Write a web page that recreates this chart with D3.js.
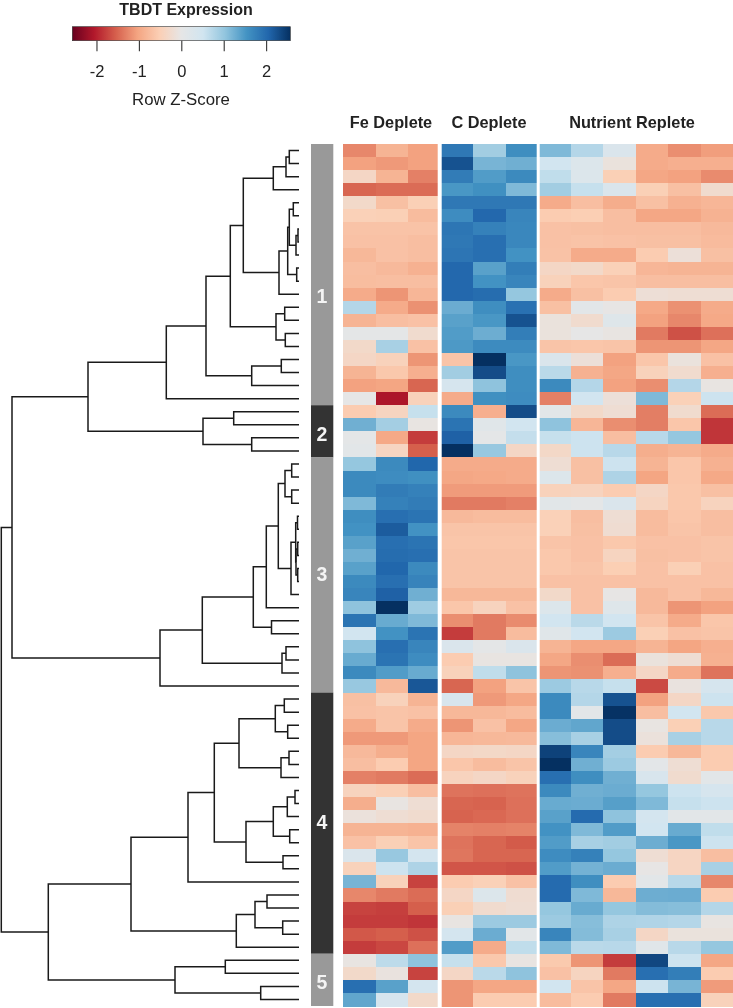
<!DOCTYPE html>
<html>
<head>
<meta charset="utf-8">
<script src="https://cdn.jsdelivr.net/npm/d3@7"></script>
<style>
body { margin: 0; background: #fff; }
svg { display: block; filter: blur(0.35px); }
text { font-family: "Liberation Sans", Arial, sans-serif; fill: #222; }
</style>
</head>
<body>
<script>
var w = 733;
var h = 1008;

// row z-scores, top row first
var feDeplete = [
[-1.25,-0.85,-1.05],[-1.05,-1.12,-1.05],[-0.35,-0.85,-1.3],[-1.5,-1.45,-1.45],[-0.3,-0.7,-0.5],
[-0.48,-0.5,-0.75],[-0.66,-0.66,-0.66],[-0.68,-0.68,-0.72],[-0.8,-0.68,-0.72],[-0.72,-0.78,-0.88],
[-0.74,-0.72,-0.72],[-0.95,-1.15,-0.82],[0.75,-0.95,-1.18],[-0.85,-0.72,-0.68],[0.05,0.05,-0.25],
[-0.3,0.85,-0.68],[-0.35,-0.45,-1.15],[-0.85,-0.6,-0.9],[-1.05,-1.02,-1.5],[0,-2.1,-0.45],
[-0.55,-0.4,0.6],[1.25,0.88,-0.05],[0.05,-0.98,-1.8],[0.1,-0.38,-1.55],
[1,1.65,2.05],[1.65,1.62,1.58],[1.65,1.8,1.75],[1.15,1.75,1.8],[1.6,1.95,1.9],
[1.55,2.15,1.55],[1.4,1.95,1.9],[1.25,1.98,1.95],[1.4,2.05,1.65],[1.65,1.95,1.72],
[1.7,2.1,1.25],[1.05,2.6,0.92],[1.9,1.3,1.15],[0.5,1.55,1.9],[1.05,1.95,1.7],
[1.3,1.9,1.62],[1.65,1.45,1.3],[0.98,-0.78,2.2],
[-0.7,-0.45,-0.85],[-0.68,-0.65,-0.68],[-0.95,-0.65,-0.95],[-1.12,-1.12,-1.02],[-0.78,-0.92,-1.02],
[-0.72,-0.55,-1.02],[-1.3,-1.35,-1.45],[-0.42,-0.5,-0.72],[-0.92,-0.05,-0.2],[-0.12,-0.2,-0.25],
[-0.85,-0.85,-0.88],[-0.68,-0.5,-0.65],[0.3,0.98,0.45],[-0.45,0.55,0.8],[1.2,-0.45,-1.75],
[-1.25,-1.35,-1.45],[-1.75,-1.78,-1.55],[-1.8,-1.8,-1.85],[-1.6,-1.55,-1.65],[-1.8,-1.72,-1.42],
[-0.05,0.68,1.05],[-0.3,-0.08,-1.75],[1.95,1.4,0.45],[1.35,0.4,-0.3]
];

var cDeplete = [
[1.85,0.9,1.6],[2.25,1.2,1.25],[1.8,1.45,1.65],[1.5,1.58,1.15],[1.85,1.85,1.85],
[1.62,2.03,1.7],[1.87,1.75,1.68],[1.85,1.95,1.68],[1.88,1.95,1.55],[2.03,1.4,1.78],
[2.03,1.55,1.7],[2.03,1.98,1],[1.28,1.6,1.93],[1.4,1.5,2.25],[1.45,1.27,1.78],
[1.48,1.63,1.63],[-0.65,2.6,1.5],[0.9,2.3,1.6],[0.4,1.05,1.6],[-0.95,1.58,1.62],
[1.65,-0.9,2.3],[1.9,0.15,0.5],[2.1,0.05,0.62],[2.6,0.98,-0.35],
[-0.95,-0.95,-0.95],[-1,-0.98,-0.95],[-1.1,-1.1,-1.1],[-1.35,-1.35,-1.3],[-0.78,-0.75,-0.75],
[-0.65,-0.65,-0.65],[-0.62,-0.62,-0.62],[-0.65,-0.65,-0.65],[-0.65,-0.65,-0.65],[-0.65,-0.65,-0.65],
[-0.8,-0.8,-0.8],[-0.62,-0.42,-0.68],[-1.2,-1.35,-1.22],[-1.8,-1.35,-0.75],[0.3,0.05,0.3],
[-0.55,-0.05,-0.05],[-0.45,0.65,1.05],[-1.5,-1.05,-0.65],
[0.35,-1.12,-1],[-0.8,-0.8,-0.75],[-1.15,-0.68,-1],[-0.82,-0.8,-0.78],[-0.35,-0.32,-0.35],
[-0.62,-0.75,-0.65],[-0.42,-0.35,-0.45],[-1.4,-1.42,-1.4],[-1.5,-1.52,-1.42],[-1.52,-1.48,-1.42],
[-1.28,-1.3,-1.28],[-1.4,-1.5,-1.58],[-1.38,-1.5,-1.5],[-1.62,-1.62,-1.65],[-0.55,-0.48,-0.68],
[-0.35,0.25,-0.22],[-0.5,-0.25,-0.2],[-0.05,0.95,0.95],[0.45,1.28,0.1],[1.45,-0.95,0.65],
[0.6,-0.6,-0.05],[-0.35,0.7,1.05],[-1.15,-1,-1],[-1.15,-0.55,-0.55]
];

var nutrientReplete = [
[1.15,0.75,0.3,-0.95,-1.2,-1.08],[0.5,0.25,-0.1,-0.95,-0.9,-0.9],[0.65,0.25,-0.5,-1,-1.05,-1.22],
[0.9,0.6,0.3,-0.5,-0.7,-0.25],[-0.95,-0.72,-0.93,-0.7,-0.88,-0.82],[-0.55,-0.52,-0.72,-1,-1,-0.87],
[-0.68,-0.7,-0.72,-0.72,-0.72,-0.78],[-0.68,-0.66,-0.68,-0.7,-0.7,-0.76],[-0.67,-0.95,-0.95,-0.55,-0.15,-0.7],
[-0.35,-0.3,-0.48,-0.82,-0.85,-0.85],[-0.45,-0.62,-0.65,-0.72,-0.72,-0.72],[-0.95,-0.7,-0.55,-0.17,-0.2,-0.2],
[-0.7,0.1,-0.02,-0.98,-1.18,-0.95],[-0.1,-0.25,0.2,-1.05,-1.25,-0.98],[-0.1,0,-0.05,-1.35,-1.65,-1.42],
[-0.65,-0.62,-0.65,-1.15,-1.15,-1],[0.3,-0.15,-1.05,-0.62,-0.1,-0.68],[0.7,-0.88,-1,-0.45,-0.25,-0.9],
[1.65,0.75,-1.05,-1.2,0.75,-0.05],[-1.3,0.5,-0.15,1.15,-0.48,0.55],
[0.1,-0.3,-0.2,-1.32,-0.25,-1.45],[1.05,-0.82,-1.2,-1.32,-0.62,-1.85],[0.6,0.55,-0.72,0.72,1,-1.85],
[-0.32,0.55,0.72,-0.92,-0.85,-0.95],
[-0.2,-0.7,0.55,-0.85,-0.62,-0.88],[0.25,-0.7,0.8,-1.02,-0.62,-0.98],[-0.45,-0.42,-0.55,-0.35,-0.6,-0.7],
[0.12,0.05,0.3,-0.4,-0.6,-0.42],[-0.48,-0.72,-0.2,-0.75,-0.62,-0.72],[-0.48,-0.7,-0.22,-0.75,-0.65,-0.72],
[-0.65,-0.68,-0.6,-0.68,-0.68,-0.65],[-0.6,-0.68,-0.4,-0.7,-0.68,-0.65],[-0.6,-0.65,-0.52,-0.68,-0.5,-0.68],
[-0.68,-0.68,-0.68,-0.68,-0.68,-0.68],[-0.3,-0.68,-0.02,-0.78,-0.68,-0.8],[0.25,-0.68,0.2,-0.78,-1.15,-1.05],
[0.5,0.7,0.5,-0.65,-0.95,-0.62],[0.15,0.5,0.95,-0.5,-0.68,-0.65],[-0.85,-1,-1,-0.85,-1.02,-0.9],
[-1,-1.2,-1.45,-0.1,-0.2,-0.88],[-1.15,-1.18,-0.9,-0.35,-0.95,-1.4],[0.95,0.72,0.6,-1.7,-0.08,0.4],
[1.65,0.75,2.25,-1.05,-0.35,0.55],[1.65,0.1,2.55,-0.72,0.5,-0.6],[1.28,1.35,2.3,-0.05,-0.5,0.72],
[1.1,0.85,2.3,-0.12,0.85,0.72],[2.4,1.7,0.88,-0.55,-0.8,-0.55],[2.6,1.25,0.95,0.08,-0.2,-0.55],
[1.95,1.6,1.25,0.35,-0.25,0.1],[1.65,1.25,1.28,1,0.55,0.4],[1.3,1.28,1.42,1.15,0.6,0.55],
[1.4,2,1.05,0.45,0.1,0.1],[1.55,1.15,1.45,0.5,1.3,0.65],[1.45,0.85,0.9,1.27,1.5,0.55],
[1.62,1.75,1,-0.2,-0.38,-0.72],[1.45,1.22,1.28,-0.02,-0.38,0.85],[2,1.6,-0.55,0.1,0.72,-1.25],
[2,1.15,-0.8,1.27,1.28,-0.55],[1,1.3,1,1.12,1.1,0.75],[0.95,1.1,0.8,0.78,0.75,-0.05],
[1.7,1.12,0.85,-0.35,-0.1,-0.1],[1.15,0.7,0.72,0.15,0.72,1],
[-0.58,-1.15,-1.8,2.35,0.55,-1],[-0.68,-0.4,-1.35,1.95,1.78,-0.55],[0.5,-0.65,-1,0.55,1.2,-1.1],
[-0.75,-0.55,-1.35,1.95,1.95,-0.45]
];

var groupNames = ["Fe Deplete", "C Deplete", "Nutrient Replete"];
var clusterNames = ["1", "2", "3", "4", "5"];
var clusterSizes = [20, 4, 18, 20, 4];
var legendTicks = [-2, -1, 0, 1, 2];
var zLimit = 2.57;
var paletteColors = ["#67001f", "#b2182b", "#d6604d", "#f4a582", "#fbcfb5", "#e6e6e6",
    "#d1e5f0", "#92c5de", "#4393c3", "#2166ac", "#053061"];

// row dendrogram: [merge height, upper child, lower child], 0 is a leaf
var rowTree = [297.7,
  [287,
    [211,
      [132.7,
        [93,
          [68.7,
            [55.7,
              [25.7, [13, [9.7, 0, 0], 0], 0],
              [20,
                [11.3,
                  [9.7, [5.7, 0, 0], [3, [1, 0, 0], 0]],
                  [2.3, 0, 0]],
                0]],
            [23, [14.3, 0, 0], [13.7, 0, 0]]],
          [47.3, [17.7, 0, 0], 0]],
        0],
      [96, [65.3, 0, 0], [47.3, 0, 0]]],
    [139,
      [96.7,
        [45.7,
          [32.7,
            [20.7,
              [14, [7.3, 0, 0], [7.3, 0, 0]],
              [8,
                [3.3, [1.5, 0, 0], [3, [1.3, 0, 0], [1.3, 0, 0]]],
                0]],
            0],
          [27.5, 0, 0]],
        [17, [13, 0, 0], 0]],
      0]],
  [250.7,
    [168,
      [111,
        [84.7,
          [60,
            [23.7, [14.7, 0, 0], [11.3, 0, 0]],
            [18, [10, 0, 0], 0]],
          [53,
            [25.7, [11.7, [4, 0, 0], 0], [9.3, 0, 0]],
            [16, 0, 0]]],
        0],
      [62.7,
        [44, [32, 0, 0], [16.3, 0, 0]],
        0]],
    [124, [73.7, 0, 0], [38.3, 0, 0]]]
];

var rows = d3.range(feDeplete.length);
var cols = d3.range(12);

var svg = d3.select("body").append("svg")
    .attr("width", w)
    .attr("height", h);

var xScale = d3.scaleBand().domain(cols).range([343, 733]);
var yScale = d3.scaleBand().domain(rows).range([144, 1006]);

var zDomain = paletteColors.map((c, i) => -zLimit + i * 2 * zLimit / (paletteColors.length - 1));
var color = d3.scaleLinear().domain(zDomain).range(paletteColors).clamp(true);

//heatmap cells
var cells = [];
rows.forEach(function(r) {
    var values = feDeplete[r].concat(cDeplete[r], nutrientReplete[r]);
    values.forEach(function(v, c) {
        cells.push({row: r, col: c, z: v});
    });
});

svg.append("g")
    .attr("shape-rendering", "crispEdges")
    .selectAll("rect")
    .data(cells)
    .enter()
    .append("rect")
    .attr("x", d => xScale(d.col))
    .attr("y", d => yScale(d.row))
    .attr("width", xScale.bandwidth() + 0.5)
    .attr("height", yScale.bandwidth() + 0.5)
    .attr("fill", d => color(d.z));

//white gaps between the three conditions
svg.append("g")
    .selectAll("rect")
    .data([[437.7, 4], [536.7, 3]])
    .enter()
    .append("rect")
    .attr("x", d => d[0])
    .attr("y", 140)
    .attr("width", d => d[1])
    .attr("height", 868)
    .attr("fill", "#fff");

//condition titles
var groupCenters = [391, 489, 632];
svg.append("g")
    .attr("text-anchor", "middle")
    .selectAll("text")
    .data(groupNames)
    .enter()
    .append("text")
    .attr("x", (d, i) => groupCenters[i])
    .attr("y", 128)
    .attr("font-size", 16.3)
    .attr("font-weight", "bold")
    .text(d => d);

//cluster side bar
var start = 0;
var clusters = clusterSizes.map(function(n, i) {
    var c = {name: clusterNames[i], first: start, last: start + n - 1};
    start += n;
    return c;
});

var bar = svg.append("g")
    .selectAll("g")
    .data(clusters)
    .enter()
    .append("g");

bar.append("rect")
    .attr("x", 311)
    .attr("width", 22.3)
    .attr("y", d => yScale(d.first))
    .attr("height", d => yScale(d.last) + yScale.bandwidth() - yScale(d.first))
    .attr("fill", (d, i) => i % 2 ? "#333333" : "#999999");

// the labels don't sit exactly in the middle of their bars, "1" is well below
var clusterLabelY = [303, 441, 580.5, 828.5, 989];
bar.append("text")
    .attr("x", 322)
    .attr("y", (d, i) => clusterLabelY[i])
    .attr("text-anchor", "middle")
    .attr("font-size", 19.5)
    .attr("font-weight", "bold")
    .style("fill", "#f4f4f4")
    .text(d => d.name);

//dendrogram
var root = d3.hierarchy(rowTree, d => Array.isArray(d) ? d.slice(1) : null);
var heightScale = d3.scaleLinear().domain([0, 298]).range([299, 1]);

root.leaves().forEach(function(leaf, i) {
    leaf.rowY = yScale(i) + yScale.bandwidth() / 2;
});
root.eachAfter(function(node) {
    if (node.children) {
        node.rowY = (node.children[0].rowY + node.children[1].rowY) / 2;
    }
});

function nodeX(node) {
    return heightScale(node.children ? node.data[0] : 0);
}

svg.append("g")
    .selectAll("path")
    .data(root.descendants().filter(d => d.children))
    .enter()
    .append("path")
    .attr("fill", "none")
    .attr("stroke", "#1a1a1a")
    .attr("stroke-width", 1.5)
    .attr("d", function(d) {
        var a = d.children[0], b = d.children[1];
        return "M" + nodeX(a) + "," + a.rowY
            + "H" + nodeX(d)
            + "V" + b.rowY
            + "H" + nodeX(b);
    });

//colour key
var keyScale = d3.scaleLinear().domain([-zLimit, zLimit]).range([72.3, 290.3]);

var gradient = svg.append("defs").append("linearGradient")
    .attr("id", "keyGradient");
gradient.selectAll("stop")
    .data(zDomain)
    .enter()
    .append("stop")
    .attr("offset", (d, i) => i / (zDomain.length - 1))
    .attr("stop-color", d => color(d));

svg.append("rect")
    .attr("x", keyScale.range()[0])
    .attr("y", 26.7)
    .attr("width", keyScale.range()[1] - keyScale.range()[0])
    .attr("height", 14)
    .attr("fill", "url(#keyGradient)")
    .attr("stroke", "#333")
    .attr("stroke-width", 0.6);

var keyAxis = d3.axisBottom(keyScale)
    .tickValues(legendTicks)
    .tickFormat(String)
    .tickSize(10.5)
    .tickPadding(14.5);

var keyAxisG = svg.append("g")
    .attr("transform", "translate(0,40.7)")
    .call(keyAxis);
keyAxisG.select(".domain").remove();
keyAxisG.selectAll("line").attr("stroke", "#333").attr("stroke-width", 1.1);
keyAxisG.selectAll("text")
    .attr("font-size", 16.5)
    .attr("font-family", null);

svg.append("text")
    .attr("x", 186)
    .attr("y", 14.8)
    .attr("text-anchor", "middle")
    .attr("font-size", 16)
    .attr("font-weight", "bold")
    .text("TBDT Expression");

svg.append("text")
    .attr("x", 181)
    .attr("y", 105)
    .attr("text-anchor", "middle")
    .attr("font-size", 16.8)
    .text("Row Z-Score");
</script>
</body>
</html>
